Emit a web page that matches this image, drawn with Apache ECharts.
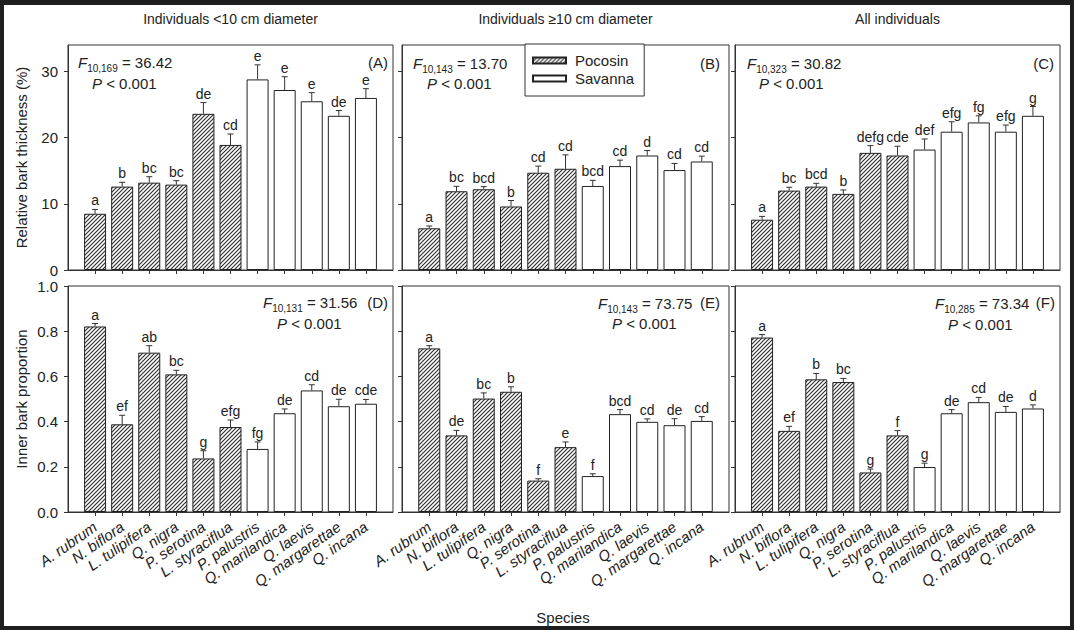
<!DOCTYPE html>
<html><head><meta charset="utf-8">
<script src="https://cdn.jsdelivr.net/npm/echarts@6/dist/echarts.min.js"></script>
<style>
html,body{margin:0;padding:0;background:#1e1e1e;overflow:hidden;}
#paper{position:absolute;left:4px;top:5px;width:1066px;height:621px;background:#fff;}
#chart{position:absolute;left:0;top:0;width:1074px;height:630px;}
</style></head><body>
<div id="paper"></div><div id="chart"></div>
<script>
// ---------- data ----------
const species = ['A. rubrum','N. biflora','L. tulipifera','Q. nigra','P. serotina','L. styraciflua','P. palustris','Q. marilandica','Q. laevis','Q. margarettae','Q. incana'];
const habitat = ['Pocosin','Pocosin','Pocosin','Pocosin','Pocosin','Pocosin','Savanna','Savanna','Savanna','Savanna','Savanna'];

const colTitles = ['Individuals <10 cm diameter','Individuals \u226510 cm diameter','All individuals'];
const rowTitles = ['Relative bark thickness (%)','Inner bark proportion'];
const xTitle = 'Species';

const thickTicks = [0,10,20,30];
const propTicks = [0,0.2,0.4,0.6,0.8,1.0];

// (A) relative bark thickness, <10 cm
const thickSmall = [8.5,12.6,13.2,12.9,23.6,18.9,28.8,27.2,25.5,23.3,26.0];
const thickSmallErr = [0.65,0.65,0.9,0.6,1.7,1.65,2.2,2.0,1.3,0.8,1.4];
const thickSmallLetters = ['a','b','bc','bc','de','cd','e','e','e','de','e'];
// (B) relative bark thickness, >=10 cm
const thickLarge = [6.3,11.9,12.2,9.6,14.7,15.3,12.7,15.7,17.3,15.1,16.4];
const thickLargeErr = [0.35,0.75,0.4,0.9,1.0,2.1,0.85,0.9,0.75,1.0,0.8];
const thickLargeLetters = ['a','bc','bcd','b','cd','cd','bcd','cd','d','cd','cd'];
// (C) relative bark thickness, all
const thickAll = [7.6,12.0,12.6,11.5,17.7,17.3,18.2,20.9,22.3,20.9,23.3];
const thickAllErr = [0.5,0.5,0.5,0.6,1.1,1.4,1.6,1.5,1.0,1.0,1.4];
const thickAllLetters = ['a','bc','bcd','b','defg','cde','def','efg','fg','efg','g'];
// (D) inner bark proportion, <10 cm
const propSmall = [0.821,0.388,0.705,0.609,0.237,0.376,0.279,0.437,0.538,0.468,0.479];
const propSmallErr = [0.013,0.04,0.031,0.018,0.034,0.031,0.031,0.019,0.025,0.031,0.019];
const propSmallLetters = ['a','ef','ab','bc','g','efg','fg','de','cd','de','cde'];
// (E) inner bark proportion, >=10 cm
const propLarge = [0.724,0.339,0.502,0.532,0.139,0.287,0.159,0.433,0.399,0.384,0.403];
const propLargeErr = [0.012,0.022,0.025,0.022,0.008,0.023,0.01,0.02,0.013,0.029,0.019];
const propLargeLetters = ['a','de','bc','b','f','e','f','bcd','cd','de','cd'];
// (F) inner bark proportion, all
const propAll = [0.772,0.359,0.587,0.575,0.175,0.339,0.199,0.437,0.486,0.443,0.458];
const propAllErr = [0.013,0.02,0.026,0.016,0.015,0.021,0.017,0.016,0.021,0.024,0.016];
const propAllLetters = ['a','ef','b','bc','g','f','g','de','cd','de','d'];

const panelTags = ['(A)','(B)','(C)','(D)','(E)','(F)'];
const fDf = ['10,169','10,143','10,323','10,131','10,143','10,285'];
const fVal = ['36.42','13.70','30.82','31.56','73.75','73.34'];
const pText = '< 0.001';

// ---------- styling / layout ----------
const FONT = '"Liberation Sans", Arial, Helvetica, sans-serif';
const INK = '#222';
const LINE = '#333';
const colLeft = [68, 402, 735], colWidth = [325, 327, 325];
const rowTop = [45, 286], rowHeight = [225, 226];

function hatch(){
  const c = document.createElement('canvas'); c.width = 4; c.height = 4;
  const g = c.getContext('2d');
  g.fillStyle = '#fff'; g.fillRect(0,0,4,4);
  g.strokeStyle = '#2e2e2e'; g.lineWidth = 1.15; g.lineCap='square';
  g.beginPath();
  g.moveTo(0,4); g.lineTo(4,0);
  g.moveTo(-1,1); g.lineTo(1,-1);
  g.moveTo(3,5); g.lineTo(5,3);
  g.stroke();
  return c;
}
const hatchFill = {image: hatch(), repeat: 'repeat'};

const panels = [
  {v:thickSmall, e:thickSmallErr, l:thickSmallLetters, row:0, col:0},
  {v:thickLarge, e:thickLargeErr, l:thickLargeLetters, row:0, col:1},
  {v:thickAll,   e:thickAllErr,   l:thickAllLetters,   row:0, col:2},
  {v:propSmall,  e:propSmallErr,  l:propSmallLetters,  row:1, col:0},
  {v:propLarge,  e:propLargeErr,  l:propLargeLetters,  row:1, col:1},
  {v:propAll,    e:propAllErr,    l:propAllLetters,    row:1, col:2}
];

const xCats = [''].concat(species, ['']);
const grids = [], xAxes = [], yAxes = [], series = [], graphics = [];

panels.forEach((p, k) => {
  grids.push({left: colLeft[p.col], top: rowTop[p.row], width: colWidth[p.col], height: rowHeight[p.row],
    show: true, borderColor: LINE, borderWidth: 1, backgroundColor: 'transparent'});
  xAxes.push({gridIndex: k, type: 'category', data: xCats, boundaryGap: false,
    axisLine: {lineStyle: {color: LINE, width: 1}},
    axisTick: {show: true, length: 4, interval: (i) => i > 0 && i < xCats.length - 1, lineStyle: {color: LINE}},
    axisLabel: {show: p.row === 1, interval: 0, rotate: 35, margin: 13, fontStyle: 'italic', fontSize: 15, fontFamily: FONT, color: INK},
    splitLine: {show: false}});
  const ticks = p.row === 0 ? thickTicks : propTicks;
  yAxes.push({gridIndex: k, type: 'value', min: 0, max: p.row === 0 ? 34 : 1,
    interval: p.row === 0 ? 10 : 0.2,
    name: p.col === 0 ? rowTitles[p.row] : '', nameLocation: 'middle', nameGap: 39,
    nameTextStyle: {fontSize: 15, fontFamily: FONT, color: INK},
    axisLine: {show: true, lineStyle: {color: LINE, width: 1}},
    axisTick: {show: true, length: 4, customValues: ticks, lineStyle: {color: LINE}},
    axisLabel: {show: p.col === 0, customValues: ticks, margin: 10, fontSize: 15, fontFamily: FONT, color: INK,
      formatter: (v) => p.row === 0 ? String(v) : v.toFixed(1)},
    splitLine: {show: false}});
  ['Pocosin','Savanna'].forEach(h => {
    series.push({type: 'bar', name: h, xAxisIndex: k, yAxisIndex: k, barWidth: 22, barGap: '-100%',
      itemStyle: {color: h === 'Pocosin' ? hatchFill : '#fff', borderColor: '#222', borderWidth: 1},
      emphasis: {disabled: true}, silent: true,
      data: p.v.map((v, i) => habitat[i] === h ? [i + 1, v] : null).filter(d => d)});
  });
  series.push({type: 'custom', name: 'err' + k, xAxisIndex: k, yAxisIndex: k, silent: true, z: 5,
    data: p.v.map((v, i) => [i + 1, v, p.e[i]]),
    renderItem: (params, api) => {
      const x = api.value(0), v = api.value(1), e = api.value(2);
      const b = api.coord([x, v]), t = api.coord([x, v + e]);
      return {type: 'group', children: [
        {type: 'line', shape: {x1: b[0], y1: b[1], x2: t[0], y2: t[1]}, style: {stroke: LINE, lineWidth: 1}},
        {type: 'line', shape: {x1: t[0] - 3, y1: t[1], x2: t[0] + 3, y2: t[1]}, style: {stroke: LINE, lineWidth: 1}},
        {type: 'text', style: {text: p.l[params.dataIndex], x: t[0], y: t[1] - 2, align: 'center', verticalAlign: 'bottom',
          fontSize: 14, fontFamily: FONT, fill: INK}}
      ]};
    }});
});

// annotation positions (F statistic, P value, panel tag)
const fPos = [[78,62.5],[413,63],[747,63],[263,302],[598,303],[935,303]];
const pPos = [[92,83],[427,83],[759,83],[277,323],[612,323],[948,324]];
const tagPos = [[388,62],[720,63],[1054,63],[388,302],[720,302],[1055,302]];

panels.forEach((p, k) => {
  graphics.push({type: 'text', x: fPos[k][0], y: fPos[k][1], silent: true,
    style: {text: '{i|F}{s|' + fDf[k] + '}{n| = ' + fVal[k] + '}', verticalAlign: 'middle', fill: INK,
      rich: {i: {fontStyle: 'italic', fontSize: 15, fontFamily: FONT, lineHeight: 22, fill: INK},
             s: {fontSize: 10, fontFamily: FONT, verticalAlign: 'bottom', lineHeight: 12, fill: INK},
             n: {fontSize: 15, fontFamily: FONT, lineHeight: 22, fill: INK}}}});
  graphics.push({type: 'text', x: pPos[k][0], y: pPos[k][1], silent: true,
    style: {text: '{i|P}{n| ' + pText + '}', verticalAlign: 'middle', fill: INK,
      rich: {i: {fontStyle: 'italic', fontSize: 15, fontFamily: FONT, fill: INK},
             n: {fontSize: 15, fontFamily: FONT, fill: INK}}}});
  graphics.push({type: 'text', x: tagPos[k][0], y: tagPos[k][1], silent: true,
    style: {text: panelTags[k], align: 'right', verticalAlign: 'middle', fontSize: 15, fontFamily: FONT, fill: INK}});
});
colTitles.forEach((t, c) => {
  graphics.push({type: 'text', x: colLeft[c] + colWidth[c] / 2, y: 19, silent: true,
    style: {text: t, align: 'center', verticalAlign: 'middle', fontSize: 14, fontFamily: FONT, fill: INK}});
});
graphics.push({type: 'text', x: 563, y: 617, silent: true,
  style: {text: xTitle, align: 'center', verticalAlign: 'middle', fontSize: 15, fontFamily: FONT, fill: INK}});

const chart = echarts.init(document.getElementById('chart'), null, {renderer: 'svg'});
chart.setOption({
  animation: false,
  backgroundColor: 'transparent',
  textStyle: {fontFamily: FONT},
  legend: {data: ['Pocosin','Savanna'], orient: 'vertical', left: 525, top: 44, icon: 'rect',
    itemWidth: 33, itemHeight: 6, itemGap: 3, selectedMode: false,
    padding: [9, 10, 10, 7], borderColor: LINE, borderWidth: 1, backgroundColor: '#fff',
    textStyle: {fontSize: 15, fontFamily: FONT, color: INK, padding: [0,0,0,4]}},
  grid: grids, xAxis: xAxes, yAxis: yAxes, series: series, graphic: graphics
});
</script>
</body></html>
